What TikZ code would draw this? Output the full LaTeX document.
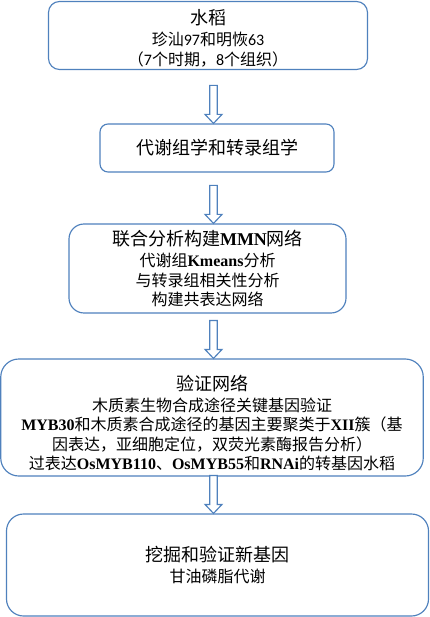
\documentclass[tikz,border=0pt]{standalone}
\usepackage{fontspec}
\newfontfamily\cjk{Noto Sans CJK SC}
\newfontfamily\tnrfont{Liberation Serif}
\newfontfamily\calfont{Carlito}
\newcommand{\tb}[1]{{\tnrfont\bfseries #1}}
\newcommand{\cb}[1]{{\calfont #1}}
\newcommand{\ttl}[1]{{\fontsize{18}{21}\selectfont #1}}
\definecolor{bord}{RGB}{79,129,189}
\tikzset{
  box/.style={draw=bord, line width=1.15pt, fill=white, align=center, inner sep=0pt,
    font=\cjk\fontsize{16}{19.5}\selectfont, text=black},
  blockarrow/.style={draw=bord, line width=1.15pt, fill=white, line join=miter}
}
\begin{document}
\begin{tikzpicture}[x=1pt,y=-1pt]
\useasboundingbox (0,0) rectangle (430,617);
\coordinate (ax) at (213.5,0);

\node[box, rounded corners=11pt, minimum width=319pt, minimum height=68pt] (b1) at (208,35.5)
  {\rule{0pt}{21pt}\ttl{水稻}\\[1.5pt] 珍汕\cb{97}和明恢\cb{63}\\（\cb{7}个时期，\cb{8}个组织）};

\node[box, rounded corners=8pt, minimum width=234pt, minimum height=48pt] (b2) at (217,148)
  {\ttl{代谢组学和转录组学}};

\node[box, rounded corners=15pt, minimum width=277pt, minimum height=89pt] (b3) at (207.5,268.5)
  {\ttl{联合分析构建\tb{MMN}网络}\\[2pt] 代谢组\tb{Kmeans}分析\\ 与转录组相关性分析\\ 构建共表达网络};

\node[box, rounded corners=18pt, minimum width=422.5pt, minimum height=117pt] (b4) at (212,417.5)
  {\rule{0pt}{26pt}\ttl{验证网络}\\[1.5pt] 木质素生物合成途径关键基因验证\\
   \tb{MYB30}和木质素合成途径的基因主要聚类于\tb{XII}簇（基\\
   因表达，亚细胞定位，双荧光素酶报告分析）\\
   过表达\tb{OsMYB110}、\tb{OsMYB55}和\tb{RNAi}的转基因水稻};

\node[box, rounded corners=17pt, minimum width=422pt, minimum height=102pt] (b5) at (217.5,565)
  {\ttl{挖掘和验证新基因}\\[1pt] 甘油磷脂代谢};

\foreach \a/\b in {b1/b2, b2/b3, b3/b4, b4/b5}{
  \draw[blockarrow] (\b.north -| ax) -- ++(-8.5,-9) -- ++(4.75,0) -- ++(0,-29)
    -- ++(7.5,0) -- ++(0,29) -- ++(4.75,0) -- cycle;
}
\end{tikzpicture}
\end{document}
